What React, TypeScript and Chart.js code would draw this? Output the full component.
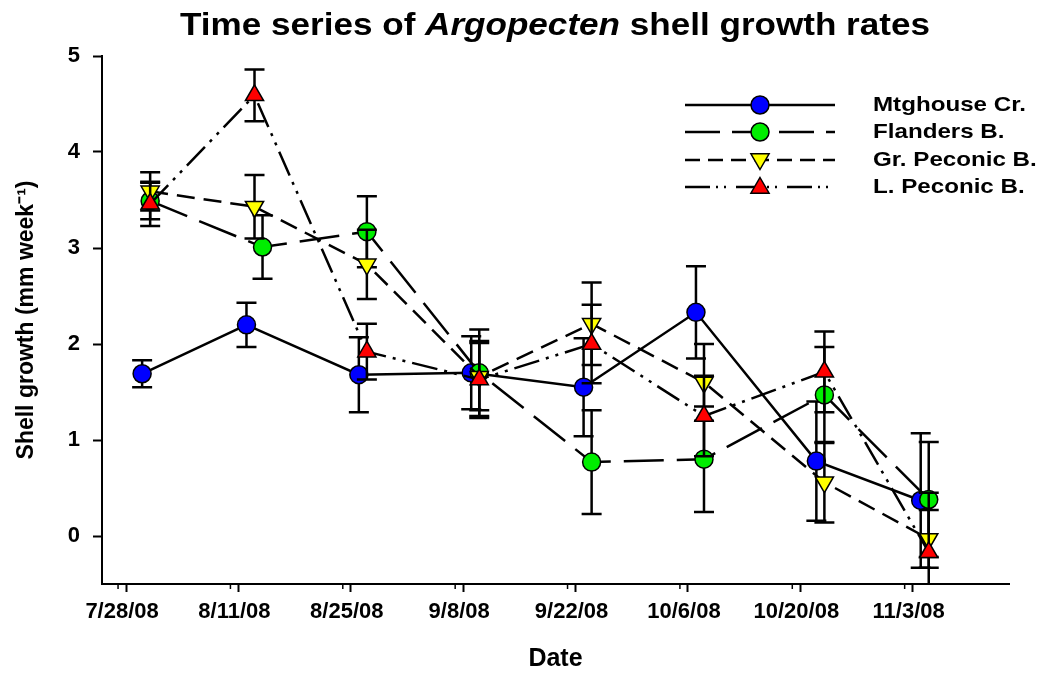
import React, { useEffect, useRef } from 'react';
import { Chart, registerables } from 'chart.js';

Chart.register(...registerables);

// ---------- data ----------
const START_DATE = '2008-07-28';
const tickDates = ['2008-07-28', '2008-08-11', '2008-08-25', '2008-09-08', '2008-09-22', '2008-10-06', '2008-10-20', '2008-11-03'];
const tickLabels = ['7/28/08', '8/11/08', '8/25/08', '9/8/08', '9/22/08', '10/6/08', '10/20/08', '11/3/08'];
const yTicks = [0, 1, 2, 3, 4, 5];

const seriesNames = ['Mtghouse Cr.', 'Flanders B.', 'Gr. Peconic B.', 'L. Peconic B.'];
const seriesColors = ['#0000ff', '#00ee00', '#ffff00', '#ff0000'];

const mtgDates = ['2008-07-30', '2008-08-12', '2008-08-26', '2008-09-09', '2008-09-23', '2008-10-07', '2008-10-22', '2008-11-04'];
const mtgGrowth = [1.69, 2.2, 1.68, 1.7, 1.55, 2.33, 0.78, 0.37];
const mtgErr = [0.14, 0.23, 0.39, 0.38, 0.51, 0.48, 0.62, 0.7];

const flaDates = ['2008-07-31', '2008-08-14', '2008-08-27', '2008-09-10', '2008-09-24', '2008-10-08', '2008-10-23', '2008-11-05'];
const flaGrowth = [3.49, 3.01, 3.17, 1.7, 0.77, 0.8, 1.47, 0.38];
const flaErr = [0.19, 0.33, 0.37, 0.45, 0.54, 0.55, 0.5, 0.6];

const grpDates = ['2008-07-31', '2008-08-13', '2008-08-27', '2008-09-10', '2008-09-24', '2008-10-08', '2008-10-23', '2008-11-05'];
const grpGrowth = [3.59, 3.43, 2.83, 1.66, 2.21, 1.6, 0.56, -0.03];
const grpErr = [0.2, 0.33, 0.36, 0.35, 0.43, 0.4, 0.42, 0.3];

const lpcDates = ['2008-07-31', '2008-08-13', '2008-08-27', '2008-09-10', '2008-09-24', '2008-10-08', '2008-10-23', '2008-11-05'];
const lpcGrowth = [3.46, 4.59, 1.92, 1.63, 2.0, 1.25, 1.71, -0.17];
const lpcErr = [0.23, 0.27, 0.29, 0.4, 0.41, 0.42, 0.42, 0.62];

// ---------- helpers ----------
const dayOf = (iso: string) => (Date.parse(iso + 'T00:00:00Z') - Date.parse(START_DATE + 'T00:00:00Z')) / 86400000;
const FONT = "'Liberation Sans', Arial, Helvetica, sans-serif";

const dashes: number[][] = [[], [40, 13], [18, 9], [26, 7, 3, 7, 3, 7]];
const legendDashes: number[][] = [[], [35, 12], [15, 8], [25, 6, 2, 6, 2, 10]];

function drawMarker(ctx: CanvasRenderingContext2D, kind: string, x: number, y: number, r: number, fill: string) {
  ctx.beginPath();
  if (kind === 'circle') {
    ctx.arc(x, y, r, 0, Math.PI * 2);
  } else if (kind === 'up') {
    ctx.moveTo(x, y - r);
    ctx.lineTo(x + 0.866 * r, y + 0.5 * r);
    ctx.lineTo(x - 0.866 * r, y + 0.5 * r);
    ctx.closePath();
  } else {
    ctx.moveTo(x, y + r);
    ctx.lineTo(x + 0.866 * r, y - 0.5 * r);
    ctx.lineTo(x - 0.866 * r, y - 0.5 * r);
    ctx.closePath();
  }
  ctx.fillStyle = fill;
  ctx.fill();
  ctx.setLineDash([]);
  ctx.lineWidth = 1.5;
  ctx.strokeStyle = '#000';
  ctx.stroke();
}

const errorBarPlugin = {
  id: 'errorBars',
  beforeDatasetDraw(chart: any, args: any) {
    const ds = chart.data.datasets[args.index];
    const err: number[] = ds.errors;
    if (!err) return;
    const { ctx, chartArea, scales } = chart;
    const ys = scales.y;
    ctx.save();
    ctx.beginPath();
    ctx.rect(chartArea.left, chartArea.top - 30, chartArea.right - chartArea.left, chartArea.bottom - chartArea.top + 30);
    ctx.clip();
    ctx.setLineDash([]);
    ctx.strokeStyle = '#000';
    ctx.lineWidth = 2.5;
    args.meta.data.forEach((pt: any, i: number) => {
      const v = ds.data[i].y;
      const e = err[i];
      const x = pt.x;
      const yT = ys.getPixelForValue(v + e);
      const yB = ys.getPixelForValue(v - e);
      ctx.beginPath();
      ctx.moveTo(x, yT);
      ctx.lineTo(x, yB);
      ctx.moveTo(x - 10, yT);
      ctx.lineTo(x + 10, yT);
      ctx.moveTo(x - 10, yB);
      ctx.lineTo(x + 10, yB);
      ctx.stroke();
    });
    ctx.restore();
  },
};

const decorPlugin = {
  id: 'decor',
  afterDraw(chart: any) {
    const { ctx, chartArea, scales } = chart;
    const xs = scales.x;
    ctx.save();
    // minor ticks
    ctx.strokeStyle = '#000';
    ctx.lineWidth = 1.5;
    ctx.setLineDash([]);
    tickDates.forEach((d) => {
      const x = xs.getPixelForValue(dayOf(d) - 1);
      ctx.beginPath();
      ctx.moveTo(x, chartArea.bottom);
      ctx.lineTo(x, chartArea.bottom + 5);
      ctx.stroke();
    });

    // title
    const p1 = 'Time series of ';
    const p2 = 'Argopecten';
    const p3 = ' shell growth rates';
    const fB = `bold 32px ${FONT}`;
    const fI = `italic bold 32px ${FONT}`;
    ctx.font = fB;
    const w1 = ctx.measureText(p1).width;
    const w3 = ctx.measureText(p3).width;
    ctx.font = fI;
    const w2 = ctx.measureText(p2).width;
    const total = w1 + w2 + w3;
    const sx = 750 / total;
    ctx.translate(555, 26);
    ctx.scale(sx, 1);
    ctx.fillStyle = '#000';
    ctx.textBaseline = 'middle';
    ctx.textAlign = 'left';
    let cx = -total / 2;
    ctx.font = fB;
    ctx.fillText(p1, cx, 0);
    cx += w1;
    ctx.font = fI;
    ctx.fillText(p2, cx, 0);
    cx += w2;
    ctx.font = fB;
    ctx.fillText(p3, cx, 0);
    ctx.restore();

    // legend
    const rows = [105, 132, 160, 187];
    const kinds = ['circle', 'circle', 'down', 'up'];
    chart.data.datasets.forEach((ds: any, i: number) => {
      const y = rows[i];
      ctx.save();
      ctx.strokeStyle = '#000';
      ctx.lineWidth = 2.5;
      ctx.setLineDash(legendDashes[i]);
      ctx.beginPath();
      ctx.moveTo(685, y);
      ctx.lineTo(835, y);
      ctx.stroke();
      drawMarker(ctx, kinds[i], 760, y + (kinds[i] === 'circle' ? 0 : kinds[i] === 'up' ? 1 : -1), kinds[i] === 'circle' ? 9 : 10.5, seriesColors[i]);
      ctx.font = `bold 21px ${FONT}`;
      ctx.fillStyle = '#000';
      ctx.textBaseline = 'middle';
      ctx.textAlign = 'left';
      ctx.translate(873, y);
      ctx.scale(1.15, 1);
      ctx.fillText(ds.label, 0, 0);
      ctx.restore();
    });
  },
};

function makeDataset(i: number, dates: string[], vals: number[], errs: number[], style: string, rot: number, radius: number) {
  return {
    label: seriesNames[i],
    data: dates.map((d, k) => ({ x: dayOf(d), y: vals[k] })),
    errors: errs,
    borderColor: '#000',
    borderWidth: 2.5,
    borderDash: dashes[i],
    pointStyle: style,
    pointRotation: rot,
    pointRadius: radius,
    pointHoverRadius: radius,
    pointBackgroundColor: seriesColors[i],
    pointBorderColor: '#000',
    pointBorderWidth: 1.5,
    tension: 0,
    fill: false,
    order: 4 - i,
  };
}

export default function App() {
  const ref = useRef<HTMLCanvasElement>(null);
  useEffect(() => {
    document.body.style.margin = '0';
    document.body.style.overflow = 'hidden';
    const canvas = ref.current;
    if (!canvas) return;
    const chart = new Chart(canvas, {
      type: 'line',
      data: {
        datasets: [
          makeDataset(0, mtgDates, mtgGrowth, mtgErr, 'circle', 0, 9),
          makeDataset(1, flaDates, flaGrowth, flaErr, 'circle', 0, 9),
          makeDataset(2, grpDates, grpGrowth, grpErr, 'triangle', 180, 10.5),
          makeDataset(3, lpcDates, lpcGrowth, lpcErr, 'triangle', 0, 10.5),
        ] as any,
      },
      options: {
        animation: false,
        responsive: false,
        devicePixelRatio: 1,
        layout: { padding: { left: 0, right: 39, top: 56, bottom: 0 } },
        plugins: {
          legend: { display: false },
          title: { display: false },
          tooltip: { enabled: false },
        },
        scales: {
          x: {
            type: 'linear',
            min: -3,
            max: 110,
            afterFit: (s: any) => {
              s.height = 91;
            },
            afterBuildTicks: (s: any) => {
              s.ticks = tickDates.map((d) => ({ value: dayOf(d) }));
            },
            grid: {
              display: true,
              drawOnChartArea: false,
              drawTicks: true,
              tickLength: 8,
              tickWidth: 2,
              tickColor: '#000',
            },
            border: { display: true, color: '#000', width: 2 },
            ticks: {
              autoSkip: false,
              maxRotation: 0,
              minRotation: 0,
              padding: 7,
              labelOffset: -4,
              color: '#000',
              font: { family: FONT, size: 22, weight: 'bold' },
              callback: (v: any) => {
                const idx = tickDates.findIndex((d) => Math.abs(dayOf(d) - Number(v)) < 0.01);
                return idx >= 0 ? tickLabels[idx] : '';
              },
            },
            title: {
              display: true,
              text: 'Date',
              color: '#000',
              font: { family: FONT, size: 25, weight: 'bold' },
              padding: { top: 0, bottom: 1 },
            },
          },
          y: {
            type: 'linear',
            min: -0.5,
            max: 5,
            afterFit: (s: any) => {
              s.width = 102;
            },
            afterBuildTicks: (s: any) => {
              s.ticks = yTicks.map((v) => ({ value: v }));
            },
            grid: {
              display: true,
              drawOnChartArea: false,
              drawTicks: true,
              tickLength: 9,
              tickWidth: 2,
              tickColor: '#000',
            },
            border: { display: true, color: '#000', width: 2 },
            ticks: {
              padding: 13,
              color: '#000',
              font: { family: FONT, size: 22, weight: 'bold' },
              callback: (v: any) => String(v),
            },
            title: {
              display: true,
              text: 'Shell growth (mm week\u207B\u00B9)',
              color: '#000',
              font: { family: FONT, size: 23, weight: 'bold' },
              padding: { top: 13, bottom: 0 },
            },
          },
        },
      } as any,
      plugins: [errorBarPlugin, decorPlugin],
    });
    return () => chart.destroy();
  }, []);
  return <canvas ref={ref} width={1048} height={675} style={{ display: 'block' }} />;
}
